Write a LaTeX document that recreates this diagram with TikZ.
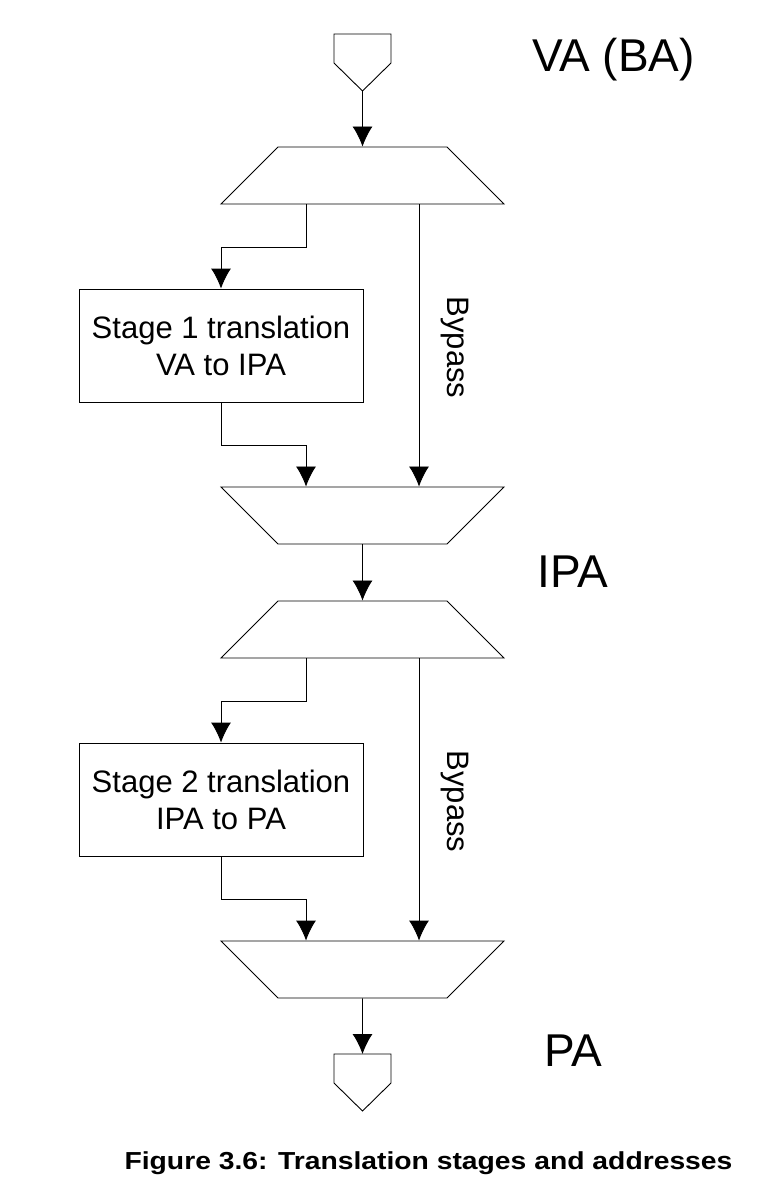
\documentclass[tikz,border=0pt]{standalone}
\usepackage{fontspec}
\usepackage{graphicx}
\setmainfont{Liberation Sans}
\usetikzlibrary{arrows.meta,shapes.geometric}

\begin{document}
\begin{tikzpicture}[>={Latex[length=20pt,width=20pt]}, x=1pt, y=-1pt, line width=0.9pt,
  every node/.style={inner sep=0pt},
  split/.style={draw, trapezium, trapezium angle=45, text width=169pt, text height=57pt, text depth=0pt},
  merge/.style={split, shape border rotate=180},
  stagebox/.style={draw, minimum width=284pt, minimum height=113pt, align=center, font=\fontsize{31}{37}\selectfont},
  addr/.style={anchor=base, font=\fontsize{46}{50}\selectfont},
  bypass/.style={anchor=base, rotate=-90, font=\fontsize{31}{37}\selectfont}]
  \useasboundingbox (0,0) rectangle (771,1188);

  % input and output ports
  \foreach \p/\y in {in/34, out/1054} {
    \draw (334,\y) -- (391,\y) -- (391,{\y+29}) -- (362.5,{\y+57}) -- (334,{\y+29}) -- cycle;
    \coordinate (\p-top) at (362.5,\y);
    \coordinate (\p-tip) at (362.5,{\y+57});
  }

  % address labels
  \node[addr] (va) at (613.5,72) {VA (BA)};
  \node[addr] (ipa) at (573,587) {IPA};
  \node[addr] (pa) at (573.5,1066) {PA};

  % the two translation stages
  \foreach \s/\dy/\txt in {1/0/VA to IPA, 2/454/IPA to PA} {
    \node[split] (split\s) at (362.5,{175.5+\dy}) {};
    \node[merge] (merge\s) at (362.5,{515.5+\dy}) {};
    \node[stagebox] (stage\s) at (221,{345.5+\dy}) {Stage \s\ translation\\\txt};
    % translate path
    \draw[->] ([xshift=-56.5pt]split\s.south) -- ++(0,43) -| (stage\s.north);
    \draw[->] (stage\s.south) -- ++(0,43) -| ([xshift=-56.5pt]merge\s.north);
    % bypass path
    \draw[->] ([xshift=56.5pt]split\s.south) -- ([xshift=56.5pt]merge\s.north);
    \node[bypass] (bypass\s) at (447,{347.5+\dy}) {Bypass};
  }

  % chain the blocks
  \draw[->] (in-tip) -- (split1.north);
  \draw[->] (merge1.south) -- (split2.north);
  \draw[->] (merge2.south) -- (out-top);

  % caption
  \node[anchor=base, font=\bfseries\fontsize{24.6}{28}\selectfont] (caption) at (428.5,1169) {\scalebox{1.15}[1]{Figure 3.6: Translation stages and addresses}};
\end{tikzpicture}
\end{document}
